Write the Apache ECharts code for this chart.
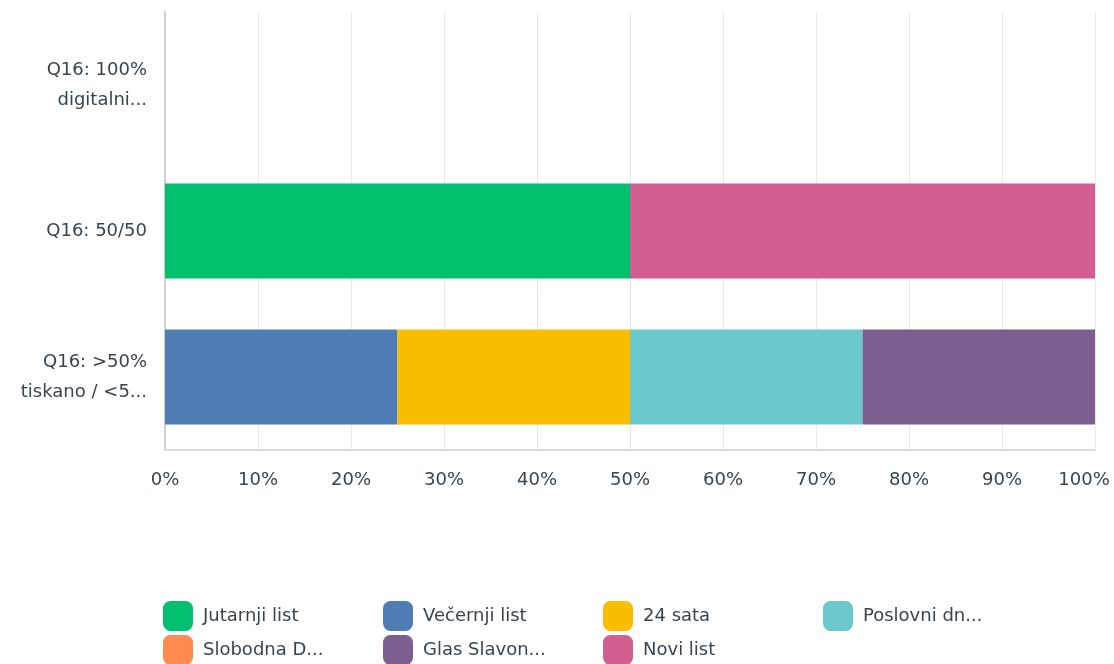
<!DOCTYPE html>
<html>
<head>
<meta charset="utf-8">
<title>Q16</title>
<script src="https://cdn.jsdelivr.net/npm/echarts@6/dist/echarts.min.js"></script>
<style>
  html, body { margin: 0; padding: 0; background: #fff; }
  #chart { width: 1114px; height: 664px; }
</style>
</head>
<body>
<div id="chart"></div>
<script>
// kategorije (odozgo prema dolje)
var categories = ["Q16: 100%\ndigitalni...", "Q16: 50/50", "Q16: >50%\ntiskano / <5..."];
var xTicks = [0, 10, 20, 30, 40, 50, 60, 70, 80, 90, 100];

// postoci po novinama, redom kao kategorije
var jutarnji = [0, 50, 0];
var vecernji = [0, 0, 25];
var sata24 = [0, 0, 25];
var poslovni = [0, 0, 25];
var slobodna = [0, 0, 0];
var glas = [0, 0, 25];
var noviList = [0, 50, 0];

var names = ["Jutarnji list", "Večernji list", "24 sata", "Poslovni dn...", "Slobodna D...", "Glas Slavon...", "Novi list"];
var colors = ["#00BF6F", "#507CB6", "#F9BE00", "#6BC8CD", "#FF8B4F", "#7D5E90", "#D25F90"];
var values = [jutarnji, vecernji, sata24, poslovni, slobodna, glas, noviList];

var font = "DejaVu Sans";
var textColor = "#3a444e";

var myChart = echarts.init(document.getElementById("chart"));

// legenda u stupcima, kao u originalu
var legendCols = [
	[names[0], names[4]],
	[names[1], names[5]],
	[names[2], names[6]],
	[names[3]],
];
var legends = legendCols.map(function (col, i) {
	return {
		data: col,
		orient: "vertical",
		left: 163 + i * 220,
		top: 601,
		height: 120,
		padding: 0,
		itemWidth: 30,
		itemHeight: 30,
		itemGap: 4,
		icon: "roundRect",
		selectedMode: false,
		textStyle: { fontFamily: font, fontSize: 18, color: textColor, padding: [4, 0, 0, 5] },
	};
});

var option = {
	animation: false,
	grid: { left: 165, right: 19, top: 12, bottom: 214, containLabel: false, outerBoundsMode: "none" },
	legend: legends,
	xAxis: {
		type: "value",
		min: 0,
		max: 100,
		interval: 10,
		axisLine: { show: true, lineStyle: { color: "#dcdcdc", width: 2 } },
		axisTick: { show: false },
		splitLine: { lineStyle: { color: "#e8e8e8" } },
		axisLabel: {
			margin: 21,
			fontFamily: font,
			fontSize: 18,
			color: textColor,
			formatter: function (v) {
				if (xTicks.indexOf(v) < 0) return "";
				return v === 100 ? "{m|" + v + "%}" : v + "%";
			},
			rich: {
				m: { fontFamily: font, fontSize: 18, color: textColor, padding: [0, 22, 0, 0] },
			},
		},
	},
	yAxis: {
		type: "category",
		inverse: true,
		data: categories,
		axisLine: { show: true, lineStyle: { color: "#cfcfcf", width: 2 } },
		axisTick: { show: false },
		axisLabel: {
			margin: 18,
			align: "right",
			lineHeight: 30,
			padding: [5, 0, 0, 0],
			fontFamily: font,
			fontSize: 18,
			color: textColor,
		},
	},
	series: names.map(function (n, i) {
		return {
			name: n,
			type: "bar",
			stack: "ukupno",
			barWidth: "65%",
			itemStyle: { color: colors[i] },
			data: values[i],
		};
	}),
};

myChart.setOption(option);
</script>
</body>
</html>
